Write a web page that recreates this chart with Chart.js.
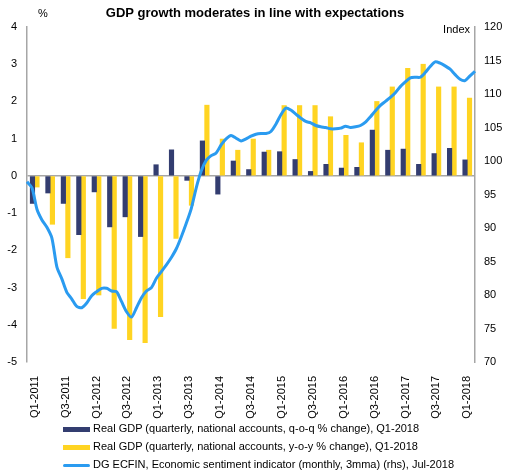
<!DOCTYPE html>
<html>
<head>
<meta charset="utf-8">
<script src="https://cdn.jsdelivr.net/npm/chart.js@4"></script>
<style>
    html, body { margin: 0; padding: 0; background: #fff; }
    #wrap { position: relative; width: 506px; height: 475px; font-family: 'Liberation Sans', Arial, sans-serif; }
    #wrap canvas { position: absolute; left: 0; top: 0; }
    .legend { position: absolute; left: 63px; top: 419px; font-size: 11px; color: #000; }
    .legend div { height: 18px; line-height: 18px; white-space: nowrap; }
    .legend span { display: inline-block; width: 27px; vertical-align: middle; margin-right: 3px; }
</style>
</head>
<body>
<div id="wrap">
    <canvas id="gdpChart" width="506" height="475"></canvas>
    <div class="legend">
        <div><span style="height:5px;background:#333D70"></span>Real GDP (quarterly, national accounts, q-o-q % change), Q1-2018</div>
        <div><span style="height:5px;background:#FFD422"></span>Real GDP (quarterly, national accounts, y-o-y % change), Q1-2018</div>
        <div><span style="height:3px;background:#2A9BF0;border-radius:2px"></span>DG ECFIN, Economic sentiment indicator (monthly, 3mma) (rhs), Jul-2018</div>
    </div>
</div>
<script>
// Quarterly categories
const quarters = [
    'Q1-2011', 'Q2-2011', 'Q3-2011', 'Q4-2011',
    'Q1-2012', 'Q2-2012', 'Q3-2012', 'Q4-2012',
    'Q1-2013', 'Q2-2013', 'Q3-2013', 'Q4-2013',
    'Q1-2014', 'Q2-2014', 'Q3-2014', 'Q4-2014',
    'Q1-2015', 'Q2-2015', 'Q3-2015', 'Q4-2015',
    'Q1-2016', 'Q2-2016', 'Q3-2016', 'Q4-2016',
    'Q1-2017', 'Q2-2017', 'Q3-2017', 'Q4-2017',
    'Q1-2018'
];

// Real GDP q-o-q % change
const gdpQoq = [
    -0.74, -0.46, -0.74, -1.58,
    -0.43, -1.37, -1.10, -1.63,
    0.30, 0.70, -0.12, 0.94,
    -0.49, 0.40, 0.17, 0.64,
    0.65, 0.44, 0.12, 0.31,
    0.21, 0.23, 1.23, 0.69,
    0.72, 0.31, 0.60, 0.74,
    0.43
];

// Real GDP y-o-y % change
const gdpYoy = [
    -0.30, -1.30, -2.20, -3.30,
    -3.20, -4.10, -4.40, -4.48,
    -3.78, -1.68, -0.79, 1.90,
    0.99, 0.69, 0.99, 0.69,
    1.89, 1.89, 1.89, 1.59,
    1.09, 0.89, 2.00, 2.39,
    2.89, 3.00, 2.39, 2.39,
    2.09
];

// Economic sentiment indicator, monthly Jan-2011 .. Jul-2018 (rhs)
const esi = [
    96.9, 96.0, 92.8, 91.2, 90.1, 88.5, 84.2, 82.4, 80.4, 79.4, 78.3, 78.1,
    78.8, 79.9, 80.5, 81.0, 81.0, 80.6, 80.5, 79.0, 77.5, 76.7, 78.1, 79.6,
    80.6, 81.1, 82.5, 83.5, 84.5, 85.6, 86.9, 88.7, 90.7, 92.9, 96.0, 98.5,
    100.1, 100.8, 101.2, 102.4, 103.3, 103.8, 103.4, 103.0, 103.3, 103.7, 104.0, 104.1,
    104.1, 104.4, 105.5, 106.9, 107.9, 107.6, 107.0, 106.4, 105.9, 105.7, 105.3, 105.1,
    105.0, 104.8, 104.8, 104.9, 105.2, 105.0, 105.1, 105.3, 105.8, 106.6, 107.5, 108.3,
    108.9, 109.5, 110.2, 111.1, 111.8, 112.4, 112.5, 112.5, 113.2, 114.1, 114.8, 114.6,
    114.2, 113.7, 112.9, 112.2, 112.0, 112.7, 113.4
];

// month labels for the hidden line axis
const months = [];
for (let i = 0; i < esi.length; i++) {
    const y = 2011 + Math.floor(i / 12);
    months.push((i % 12 + 1) + '-' + y);
}

const FONT = "'Liberation Sans', Arial, sans-serif";
const AXIS_GREY = '#A6A6A6';

// title and the two small axis captions
const captions = {
    id: 'captions',
    afterDraw(chart) {
        const c = chart.ctx;
        c.save();
        c.fillStyle = '#000';
        c.textBaseline = 'middle';
        c.textAlign = 'center';
        c.font = 'bold 13px ' + FONT;
        c.fillText('GDP growth moderates in line with expectations', 255, 13);
        c.font = '11px ' + FONT;
        c.textAlign = 'left';
        c.fillText('%', 38, 14);
        c.textAlign = 'right';
        c.fillText('Index', 470, 30);
        c.restore();
    }
};

// NB: the line sits on its own x axis; Chart.js then reserves a slot per x axis
// when grouping bars, so the line goes first to keep each bar pair centred.
new Chart(document.getElementById('gdpChart'), {
    type: 'bar',
    data: {
        labels: quarters,
        datasets: [
            {
                type: 'line',
                label: 'DG ECFIN, Economic sentiment indicator (monthly, 3mma) (rhs), Jul-2018',
                data: esi,
                borderColor: '#2A9BF0',
                borderWidth: 3,
                pointRadius: 0,
                tension: 0.25,
                fill: false,
                yAxisID: 'y1',
                xAxisID: 'xLine',
                order: 0
            },
            {
                label: 'Real GDP (quarterly, national accounts, q-o-q % change), Q1-2018',
                data: gdpQoq,
                backgroundColor: '#333D70',
                yAxisID: 'y',
                xAxisID: 'x',
                order: 1,
                barThickness: 4.5
            },
            {
                label: 'Real GDP (quarterly, national accounts, y-o-y % change), Q1-2018',
                data: gdpYoy,
                backgroundColor: '#FFD422',
                yAxisID: 'y',
                xAxisID: 'x',
                order: 1,
                barThickness: 4.5
            }
        ]
    },
    options: {
        responsive: false,
        animation: false,
        layout: { padding: { top: 27, left: 0, right: 0, bottom: 0 } },
        plugins: {
            legend: { display: false },
            tooltip: { enabled: false }
        },
        scales: {
            x: {
                type: 'category',
                position: 'bottom',
                offset: true,
                grid: { display: false },
                border: { display: false },
                ticks: {
                    autoSkip: false,
                    maxRotation: 90,
                    minRotation: 90,
                    padding: 6,
                    color: '#000',
                    font: { family: FONT, size: 11 },
                    callback: (val, i) => (i % 2 === 0 ? quarters[i] : '')
                },
                afterFit: (scale) => { scale.height = 113; }
            },
            xLine: {
                type: 'category',
                labels: months,
                offset: false,
                display: false
            },
            y: {
                position: 'left',
                min: -5,
                max: 4,
                ticks: {
                    stepSize: 1,
                    padding: 10,
                    color: '#000',
                    font: { family: FONT, size: 11 }
                },
                grid: {
                    drawTicks: false,
                    color: (ctx) => (ctx.tick && ctx.tick.value === 0 ? AXIS_GREY : 'rgba(0,0,0,0)'),
                    lineWidth: 1.5
                },
                border: { display: true, color: AXIS_GREY, width: 1.5 },
                afterFit: (scale) => { scale.width = 27; }
            },
            y1: {
                position: 'right',
                min: 70,
                max: 120,
                ticks: {
                    stepSize: 5,
                    padding: 9,
                    color: '#000',
                    font: { family: FONT, size: 11 }
                },
                grid: { display: false, drawTicks: false },
                border: { display: true, color: AXIS_GREY, width: 1.5 },
                afterFit: (scale) => { scale.width = 31; }
            }
        }
    },
    plugins: [captions]
});
</script>
</body>
</html>
